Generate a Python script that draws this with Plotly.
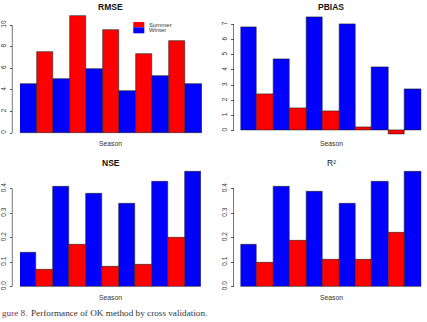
import plotly.graph_objects as go

# ---- data ----
winter_rmse = [4.5, 5.05, 5.95, 3.85, 5.25, 4.5]
summer_rmse = [7.5, 10.8, 9.5, 7.3, 8.5]
winter_pbias = [6.8, 4.7, 7.5, 7.0, 4.2, 2.7]
summer_pbias = [2.4, 1.5, 1.3, 0.2, -0.2]
winter_nse = [0.14, 0.41, 0.38, 0.34, 0.43, 0.47]
summer_nse = [0.07, 0.17, 0.08, 0.09, 0.20]
winter_r2 = [0.17, 0.41, 0.39, 0.34, 0.43, 0.47]
summer_r2 = [0.10, 0.19, 0.11, 0.11, 0.22]

titles = ["<b>RMSE</b>", "<b>PBIAS</b>", "<b>NSE</b>", "R²"]
ticks_rmse = [0, 2, 4, 6, 8, 10]
ticks_pbias = [0, 1, 2, 3, 4, 5, 6, 7]
ticks_frac = [0.0, 0.1, 0.2, 0.3, 0.4]
legend_labels = ["Summer", "Winter"]
xlabel = "Season"
caption_lead = "gure 8."
caption_rest = "Performance of OK method by cross validation."

RED = "#ff0000"
BLUE = "#0000ff"
W, H = 427, 322

def px(x):
    return x / W

def py(y):
    return 1 - y / H

panels = [
    dict(w=winter_rmse, s=summer_rmse, ticks=ticks_rmse, fmt=None,
         xd=[px(20), px(202)], yr=[-0.3, 11.3], y0=133, ppu=10.8, ax=12.3,
         tx=110.5, ty=7.5, sy=143.5),
    dict(w=winter_pbias, s=summer_pbias, ticks=ticks_pbias, fmt=None,
         xd=[px(240.5), px(421.3)], yr=[-0.4, 7.8], y0=130.7, ppu=15.19, ax=233.5,
         tx=331, ty=7.5, sy=143.5),
    dict(w=winter_nse, s=summer_nse, ticks=ticks_frac, fmt="{:.1f}",
         xd=[px(20), px(201)], yr=[-0.012, 0.49], y0=286.7, ppu=245, ax=12.3,
         tx=110.5, ty=162.7, sy=297.5),
    dict(w=winter_r2, s=summer_r2, ticks=ticks_frac, fmt="{:.1f}",
         xd=[px(240.5), px(421.3)], yr=[-0.012, 0.49], y0=286.7, ppu=245, ax=233.5,
         tx=331, ty=162.7, sy=297.5),
]

fig = go.Figure()
layout = dict(
    width=W, height=H, margin=dict(l=0, r=0, t=0, b=0),
    paper_bgcolor="white", plot_bgcolor="white", showlegend=False,
    font=dict(family="Liberation Sans, Arial, sans-serif", color="#333"),
    bargap=0,
)
shapes = []
annotations = []

for i, p in enumerate(panels):
    k = "" if i == 0 else str(i + 1)
    xa, ya = "x" + k, "y" + k
    nw = len(p["w"])
    ns = len(p["s"])
    fig.add_trace(go.Bar(x=[2 * j for j in range(nw)], y=p["w"], width=1,
                         marker=dict(color=BLUE, line=dict(color="#222", width=0.6)),
                         xaxis=xa, yaxis=ya, name="Winter"))
    fig.add_trace(go.Bar(x=[2 * j + 1 for j in range(ns)], y=p["s"], width=1,
                         marker=dict(color=RED, line=dict(color="#222", width=0.6)),
                         xaxis=xa, yaxis=ya, name="Summer"))
    ybot = p["y0"] - p["yr"][0] * p["ppu"]
    ytop = p["y0"] - p["yr"][1] * p["ppu"]
    ticktext = [p["fmt"].format(t) if p["fmt"] else str(t) for t in p["ticks"]]
    layout["xaxis" + k] = dict(domain=p["xd"], range=[-0.5, 2 * nw - 1.5],
                               visible=False, anchor=ya)
    layout["yaxis" + k] = dict(domain=[py(ybot), py(ytop)], range=p["yr"],
                               anchor="free", position=px(p["ax"]),
                               showgrid=False, zeroline=False, showline=False,
                               tickmode="array", tickvals=p["ticks"], ticktext=ticktext,
                               ticks="outside", ticklen=2.5, tickcolor="#555", tickwidth=0.8,
                               tickangle=-90, ticklabelstandoff=1,
                               tickfont=dict(size=6.5, color="#333"))
    shapes.append(dict(type="line", xref="paper", yref=ya,
                       x0=px(p["ax"]), x1=px(p["ax"]),
                       y0=p["ticks"][0], y1=p["ticks"][-1],
                       line=dict(color="#555", width=0.8)))
    annotations.append(dict(text=titles[i], x=px(p["tx"]), y=py(p["ty"]),
                            xref="paper", yref="paper", showarrow=False,
                            xanchor="center", yanchor="middle",
                            font=dict(size=8.5, color="#111")))
    annotations.append(dict(text=xlabel, x=px(p["tx"]), y=py(p["sy"]),
                            xref="paper", yref="paper", showarrow=False,
                            xanchor="center", yanchor="middle",
                            font=dict(size=6.8, color="#333")))

# legend (RMSE panel)
leg_colors = [RED, BLUE]
leg_rows = [(22.0, 27.3), (27.3, 33.3)]
for (ya0, ya1), col, lab in zip(leg_rows, leg_colors, legend_labels):
    shapes.append(dict(type="rect", xref="paper", yref="paper",
                       x0=px(133.3), x1=px(144.3), y0=py(ya1), y1=py(ya0),
                       fillcolor=col, line=dict(width=0)))
    annotations.append(dict(text=lab, x=px(146.5), y=py((ya0 + ya1) / 2),
                            xref="paper", yref="paper", showarrow=False,
                            xanchor="left", yanchor="middle",
                            font=dict(size=6, color="#333")))

cap_font = dict(family="Liberation Serif, DejaVu Serif, serif", size=9.2)
annotations.append(dict(text=caption_lead, x=0, y=py(313.3), xref="paper", yref="paper",
                        showarrow=False, xanchor="left", yanchor="middle",
                        font=dict(color="#8b2b47", **cap_font)))
annotations.append(dict(text=caption_rest, x=px(28.5), y=py(313.3), xref="paper", yref="paper",
                        showarrow=False, xanchor="left", yanchor="middle",
                        font=dict(color="#333", **cap_font)))

layout["shapes"] = shapes
layout["annotations"] = annotations
fig.update_layout(**layout)
fig.write_html("out.html")
